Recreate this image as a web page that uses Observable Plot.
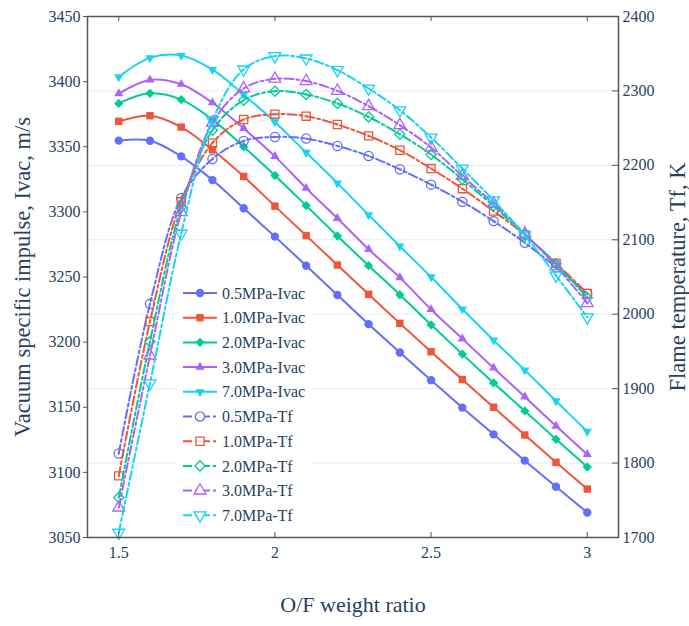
<!DOCTYPE html>
<html><head><meta charset="utf-8">
<script src="https://cdn.jsdelivr.net/npm/d3@7"></script>
<script src="https://cdn.jsdelivr.net/npm/@observablehq/plot@0.6"></script>
<style>body{margin:0;background:#fff}</style>
</head><body><div id="chart"></div>
<script>
// ---- data ----
const ofRatio = [1.5,1.6,1.7,1.8,1.9,2.0,2.1,2.2,2.3,2.4,2.5,2.6,2.7,2.8,2.9,3.0];
const seriesNames = ["0.5MPa","1.0MPa","2.0MPa","3.0MPa","7.0MPa"];
const seriesColors = ["#636efa","#ef553b","#00cc96","#ab63fa","#19d3f3"];
const seriesSymbols = ["circle","square","diamond2","triangle","triangle"];
const seriesRotate = [0,0,0,0,180];

const ivac05 = [3354.7,3354.6,3342.6,3324.4,3302.8,3281.0,3258.7,3236.2,3213.8,3192.0,3170.8,3149.7,3129.2,3109.0,3089.0,3069.2];
const ivac10 = [3369.5,3373.8,3365.1,3347.7,3327.2,3304.4,3281.8,3259.2,3236.7,3214.4,3192.6,3171.3,3150.0,3128.7,3107.7,3087.2];
const ivac20 = [3383.3,3391.0,3386.2,3370.8,3350.0,3328.0,3304.8,3281.5,3258.7,3236.4,3213.3,3190.8,3168.7,3147.2,3125.4,3104.1];
const ivac30 = [3390.8,3401.3,3398.0,3383.8,3364.1,3342.6,3318.2,3295.1,3271.3,3249.5,3225.1,3202.6,3180.2,3158.0,3135.6,3113.8];
const ivac70 = [3403.6,3418.2,3420.0,3409.2,3390.0,3369.0,3345.6,3322.1,3297.7,3273.6,3250.0,3225.4,3201.5,3178.5,3154.8,3131.5];

const tf05 = [1812.8,2013.9,2156.0,2208.6,2232.8,2238.2,2236.0,2226.1,2212.6,2194.7,2174.1,2151.2,2125.1,2096.0,2063.2,2027.4];
const tf10 = [1782.8,1990.1,2151.0,2230.1,2261.6,2268.8,2266.1,2254.9,2239.6,2220.3,2195.7,2168.7,2138.6,2106.8,2068.6,2028.0];
const tf20 = [1753.6,1963.2,2144.0,2247.2,2287.6,2299.7,2295.3,2283.2,2265.1,2241.8,2214.5,2181.3,2145.3,2106.8,2067.8,2022.0];
const tf30 = [1740.2,1944.4,2137.0,2257.0,2303.3,2316.3,2313.2,2300.1,2279.5,2254.0,2223.9,2185.7,2148.6,2108.2,2064.6,2014.8];
const tf70 = [1706.5,1907.1,2108.2,2260.7,2328.9,2346.8,2343.7,2328.0,2303.3,2274.1,2237.4,2195.7,2153.0,2105.9,2052.0,1995.9];

const xTicks = [1.5,2,2.5,3];
const ivacTicks = [3050,3100,3150,3200,3250,3300,3350,3400,3450];
const tfTicks = [1700,1800,1900,2000,2100,2200,2300,2400];
const xDomain = [1.4,3.1];
const ivacDomain = [3050,3450];
const tfDomain = [1700,2400];

const xTitle = "O/F weight ratio";
const ivacTitle = "Vacuum specific impulse, Ivac, m/s";
const tfTitle = "Flame temperature, Tf, K";

// ---- helpers ----
const toL = t => ivacDomain[0] + (t - tfDomain[0]) * (ivacDomain[1]-ivacDomain[0]) / (tfDomain[1]-tfDomain[0]);
const fromL = v => tfDomain[0] + (v - ivacDomain[0]) * (tfDomain[1]-tfDomain[0]) / (ivacDomain[1]-ivacDomain[0]);

const ivacAll = [ivac05, ivac10, ivac20, ivac30, ivac70];
const tfAll = [tf05, tf10, tf20, tf30, tf70];
const rows = (vals, conv) => ofRatio.map((x, i) => ({x, y: conv ? toL(vals[i]) : vals[i]}));

const FONT = "'Liberation Serif', 'Times New Roman', serif";
const TXT = "#2a3f5f";
const AX = "#555";

const marks = [];
marks.push(Plot.ruleY(tfTicks.map(toL), {stroke: "#e6eaf4", strokeWidth: 1}));

ivacAll.forEach((vals, k) => {
  const d = rows(vals, false);
  marks.push(Plot.line(d, {x: "x", y: "y", stroke: seriesColors[k], strokeWidth: 2, curve: "catmull-rom"}));
  marks.push(Plot.dot(d, {x: "x", y: "y", symbol: seriesSymbols[k], rotate: seriesRotate[k],
    r: k >= 3 ? 3.4 : 4.2, fill: seriesColors[k], stroke: "none"}));
});
tfAll.forEach((vals, k) => {
  const d = rows(vals, true);
  marks.push(Plot.line(d, {x: "x", y: "y", stroke: seriesColors[k], strokeWidth: 2, curve: "catmull-rom", strokeDasharray: "9,3,3,3"}));
  marks.push(Plot.dot(d, {x: "x", y: "y", symbol: seriesSymbols[k], rotate: seriesRotate[k],
    r: k >= 3 ? 4.4 : 4.6, fill: "none", stroke: seriesColors[k], strokeWidth: 1.3}));
  marks.push(Plot.dot(d, {x: "x", y: "y", r: 1, fill: seriesColors[k]}));
});

// frame + ticks
marks.push(Plot.frame({stroke: AX, strokeWidth: 1.5}));
marks.push(Plot.ruleX(xTicks, {stroke: AX, insetTop: 516}));
marks.push(Plot.ruleX(xTicks, {stroke: AX, insetBottom: 516}));
marks.push(Plot.ruleY(tfTicks.map(toL), {stroke: AX, insetLeft: 525}));
marks.push(Plot.axisX({ticks: xTicks, tickSize: 0, tickPadding: 9, label: null, fontSize: 16, tickFormat: d => String(d)}));
marks.push(Plot.axisY({anchor: "left", ticks: ivacTicks, tickSize: 4, tickPadding: 3, label: null, stroke: AX, fontSize: 16, tickFormat: d => String(d)}));
marks.push(Plot.axisY({anchor: "right", ticks: tfTicks.map(toL), tickSize: 0, tickPadding: 4, label: null, fontSize: 16,
  tickFormat: d => String(Math.round(fromL(d)))}));
marks.push(Plot.text([xTitle], {text: d => d, frameAnchor: "bottom", dy: 74, fontSize: 22, fill: TXT, textAnchor: "middle"}));
marks.push(Plot.text([ivacTitle], {text: d => d, frameAnchor: "left", rotate: -90, dx: -65, fontSize: 22.5, fill: TXT, textAnchor: "middle"}));
marks.push(Plot.text([tfTitle], {text: d => d, frameAnchor: "right", rotate: -90, dx: 59, fontSize: 22.5, fill: TXT, textAnchor: "middle"}));

const chart = Plot.plot({
  width: 689, height: 626,
  marginTop: 16, marginBottom: 89, marginLeft: 87, marginRight: 71,
  x: {domain: xDomain},
  y: {domain: ivacDomain},
  style: {fontFamily: FONT, fontSize: "16px", color: TXT, background: "white", overflow: "visible"},
  marks
});
document.getElementById("chart").appendChild(chart);

// ---- legend (inside the plot) ----
const svg = d3.select(chart);
const lg = svg.append("g").attr("transform", "translate(177,280)");
const entries = [];
seriesNames.forEach((n, k) => entries.push({label: n + "-Ivac", k, open: false}));
seriesNames.forEach((n, k) => entries.push({label: n + "-Tf", k, open: true}));
const symMap = {circle: d3.symbolCircle, square: d3.symbolSquare, diamond2: d3.symbolDiamond2, triangle: d3.symbolTriangle};
lg.append("rect").attr("x", 0).attr("y", 0).attr("width", 135).attr("height", 250).attr("fill", "white");
entries.forEach((e, i) => {
  const y = 13 + i * 24.7;
  const c = seriesColors[e.k];
  lg.append("line").attr("x1", 6).attr("x2", 40).attr("y1", y).attr("y2", y)
    .attr("stroke", c).attr("stroke-width", 2).attr("stroke-dasharray", e.open ? "9,3,3,3" : null);
  const r = e.open ? (e.k >= 3 ? 4.4 : 4.6) : (e.k >= 3 ? 3.4 : 4.2);
  lg.append("path").attr("d", d3.symbol(symMap[seriesSymbols[e.k]], Math.PI * r * r)())
    .attr("transform", `translate(23,${y}) rotate(${seriesRotate[e.k]})`)
    .attr("fill", e.open ? "white" : c).attr("stroke", e.open ? c : "none").attr("stroke-width", 1.3);
  lg.append("text").attr("x", 45).attr("y", y).attr("dy", "0.35em").attr("text-anchor", "start")
    .attr("fill", TXT).attr("font-size", 16).attr("font-family", FONT).text(e.label);
});
</script>
</body></html>
